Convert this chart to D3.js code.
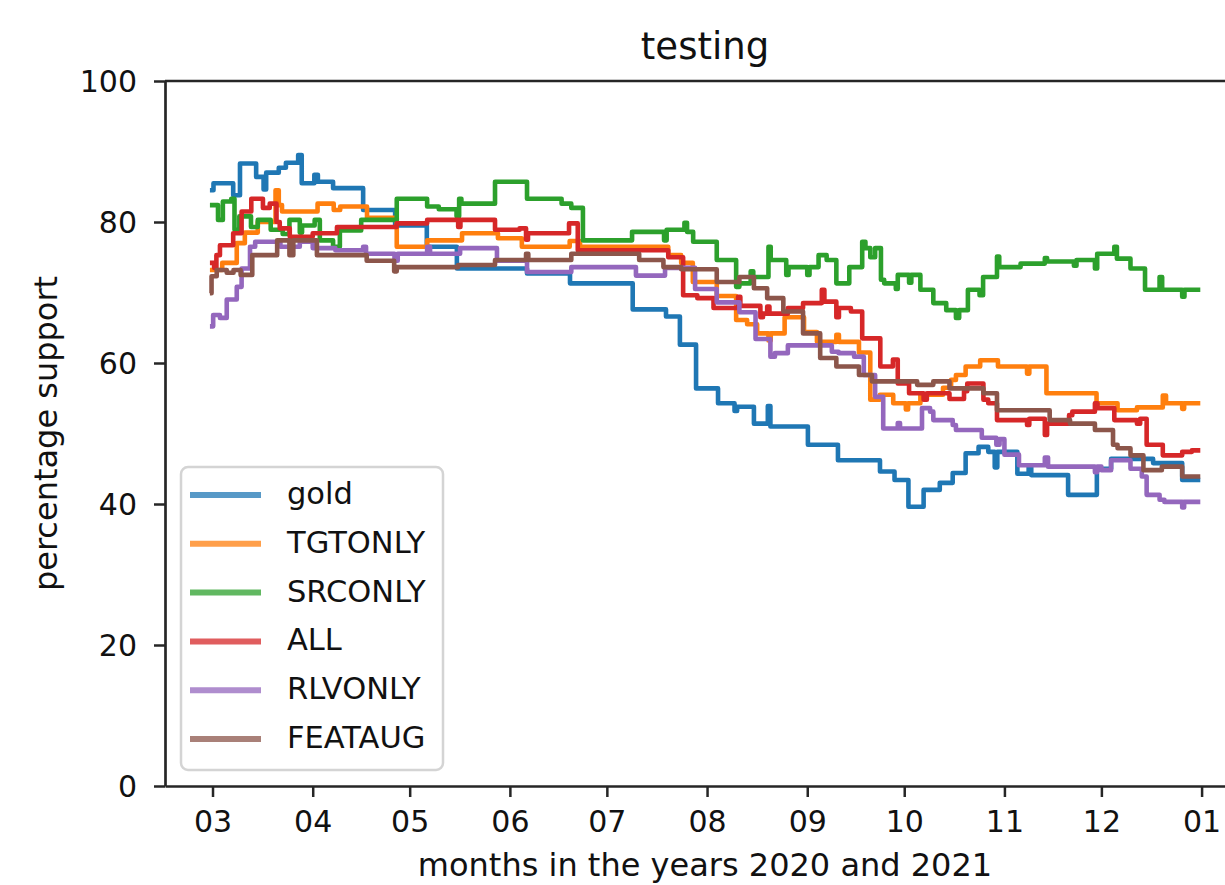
<!DOCTYPE html>
<html>
<head>
<meta charset="utf-8">
<script src="https://cdn.jsdelivr.net/npm/d3@7"></script>
<style>
  html, body { margin: 0; padding: 0; background: #fff; overflow: hidden; }
  svg { display: block; font-family: "DejaVu Sans", sans-serif; }
</style>
</head>
<body>
<div id="chart"></div>
<script>
const names = ["gold", "TGTONLY", "SRCONLY", "ALL", "RLVONLY", "FEATAUG"];
const colors = ["#1f77b4", "#ff7f0e", "#2ca02c", "#d62728", "#9467bd", "#8c564b"];
const yTicks = [0, 20, 40, 60, 80, 100];
const months = ["2020-03-01", "2020-04-01", "2020-05-01", "2020-06-01", "2020-07-01", "2020-08-01",
  "2020-09-01", "2020-10-01", "2020-11-01", "2020-12-01", "2021-01-01"];

// [days since 2020-03-01, percentage support]
const gold = [[-0.8, 84.5], [0.3, 85.5], [6.4, 83.8], [8.5, 88.3], [13.5, 86.4], [15.8, 84.6], [16.6, 87],
  [20.5, 87.7], [22.7, 88.4], [26.5, 89.5], [27.6, 85.5], [31.5, 86.7], [32.6, 85.7], [37.3, 84.8], [46.6, 81.7],
  [56.5, 79.5], [66.3, 76.5], [75.6, 73.4], [97.3, 72.7], [110.6, 71.3], [130, 67.6], [140.3, 66.6], [144.6, 62.6],
  [149.6, 56.4], [156.4, 54.3], [161.5, 53.2], [162.3, 53.8], [167.5, 51.4], [171.8, 53.9], [172.6, 51], [184.2, 48.4],
  [193.5, 46.2], [206.5, 44.6], [211, 43.4], [215.3, 39.6], [220, 42], [225, 43], [229, 44.4], [233, 47.2],
  [237, 48.1], [240, 47.4], [242, 45.2], [242.8, 47.4], [249, 44.3], [252.5, 45.3], [253.3, 44.1], [264.7, 41.3],
  [273.6, 45], [278, 46.4], [291, 45.8], [300, 43.4], [305.6, 43.4]];
const tgtonly = [[-0.8, 73.2], [3, 74.2], [7.5, 77], [10, 78.5], [14, 80], [19.5, 84.5], [20.5, 82.4], [21.5, 81.5],
  [32.5, 82.6], [37.5, 81.7], [39.5, 82.2], [47.8, 80.6], [57, 76.5], [66.4, 77.4], [77.2, 78.4], [88.3, 77.7],
  [95.7, 76.5], [110.5, 77.3], [113.7, 76.5], [141, 75.3], [145, 74.2], [148.6, 71.5], [156, 69.5], [162, 66.1],
  [165.4, 65.5], [168.5, 64.2], [172, 63.2], [172.7, 64.2], [177, 66.5], [183, 64.4], [187, 63], [193, 64],
  [193.8, 63], [200, 61.5], [203.5, 54.8], [206.5, 55.5], [210.6, 54.3], [214.5, 53.4], [215.2, 54.3], [219, 55.5],
  [226, 56.5], [228.5, 57.6], [230, 58.3], [233, 59.5], [237.5, 60.4], [243, 59.5], [252, 58.5], [252.7, 59.5],
  [258, 55.7], [273.5, 54.3], [280, 53.3], [286, 53.7], [294, 55.4], [295, 54.3], [300, 53.5], [300.6, 54.3],
  [305.6, 54.3]];
const srconly = [[-0.8, 82.4], [1.7, 80.3], [3.2, 82.9], [5.8, 83.3], [6.8, 78.9], [8.3, 80.8], [11.9, 79.3],
  [14, 80.3], [18, 78.9], [21.7, 78.3], [23.8, 80.3], [27, 78.5], [27.7, 79.5], [31.6, 80.3], [33.2, 77.4],
  [37.3, 76.5], [39.4, 78.8], [46, 80.3], [57, 83.3], [66.4, 82.2], [70, 81.8], [75.5, 80.8], [76.3, 83.3],
  [77, 82.6], [87.4, 85.7], [97.3, 83.3], [108, 82.6], [111, 82], [114.6, 77.4], [129.8, 78.6], [139.7, 77.4],
  [140.5, 78.9], [146, 79.9], [146.8, 78.6], [148.7, 77.2], [156, 74.6], [162, 70.8], [163, 71.3], [166.5, 73],
  [167.3, 72.2], [172, 76.5], [172.7, 74.6], [177.5, 72.5], [178.2, 73.6], [184, 72.5], [184.7, 73.6], [187.5, 75.3],
  [190, 74.6], [193, 71.3], [197, 73.6], [201, 77.2], [202, 76.3], [203.5, 75], [205, 76.3], [206.8, 71.8],
  [207.8, 71.3], [211.4, 70.5], [212, 72.5], [215.5, 71.4], [216.2, 72.5], [219, 70.4], [223, 68.5], [227, 67.5],
  [230, 66.4], [231, 67.5], [233.7, 70.4], [237.3, 69.6], [238.4, 72.2], [242.7, 75.1], [243.4, 73.6], [250, 74.1],
  [257.5, 74.9], [258.2, 74.4], [266.5, 73.8], [267.3, 74.6], [273, 73.4], [273.7, 75.5], [279, 76.5], [279.8, 74.8],
  [284, 73.4], [288.5, 70.4], [293, 72.2], [293.8, 70.4], [300, 69.4], [300.7, 70.4], [305.6, 70.4]];
const allFeat = [[-0.8, 74.2], [0.5, 73.5], [1.2, 75.3], [2.3, 76.7], [6.4, 78.4], [9, 81.5], [12, 83.3], [15.6, 82],
  [17.7, 82.6], [19.8, 80], [20.8, 79.1], [23.9, 77.9], [31, 78.4], [38.5, 79.3], [57, 79.8], [66.4, 80.3],
  [76, 79.3], [76.7, 80.3], [87.4, 78.9], [95, 79.1], [97, 77.5], [97.6, 78.4], [110.3, 79.8], [113, 76], [141, 75],
  [145.6, 69.6], [150, 69.2], [155, 67.8], [162.6, 69.4], [163.3, 68.1], [169.5, 66.5], [170.3, 67], [171.6, 68],
  [172.3, 67], [178, 67.8], [182.7, 68.5], [188.5, 70.4], [189.3, 68.7], [193, 66.5], [193.8, 67.8], [197.5, 67.3],
  [201, 63.5], [206.6, 59.5], [210.5, 60.5], [212, 57.1], [215.5, 55.7], [220, 54.8], [221, 55.7], [228, 54.9],
  [232.5, 56], [233.5, 57.1], [238.5, 54.8], [240, 54.3], [242.7, 51.9], [252, 51.2], [252.7, 52.1], [257.5, 49.8],
  [258.2, 51.4], [265, 52.6], [266, 53.1], [273, 54.3], [273.8, 53.6], [279, 51.9], [286, 51.4], [287, 52.1],
  [289, 48.4], [294, 46.9], [300, 47.4], [303, 47.6], [305.6, 47.6]];
const rlvonly = [[-0.8, 65.2], [0.2, 66.8], [2.3, 66.4], [4.4, 69], [7.5, 70.8], [9, 73.4], [11.6, 76.5],
  [13.2, 77.2], [21, 76.5], [27, 77.2], [31, 76.3], [38, 76], [46.6, 76.5], [47.5, 75.5], [56.3, 74.5], [57.3, 75.5],
  [66.4, 76.5], [67.3, 75.5], [76.6, 76.3], [88, 74.5], [97.3, 72.9], [111, 73.6], [131, 72.4], [140, 73.5],
  [149.3, 70.5], [156, 68.6], [163, 67.2], [168, 63.4], [172.6, 60.9], [174, 61.4], [178, 62.5], [191.6, 61.6],
  [193.7, 61.4], [198.5, 60.9], [201.5, 58.3], [205, 55.2], [207.5, 50.7], [212, 51.5], [212.7, 50.7], [219.5, 53.6],
  [222, 53.1], [223, 51.9], [229, 51.2], [230, 50.5], [238, 49.4], [242.5, 48.4], [243.5, 49.2], [245, 47],
  [249.5, 45.5], [257.5, 46.6], [258.5, 45.3], [273, 44.5], [273.7, 45.3], [275, 44.8], [278, 46.2], [284, 45],
  [287.5, 43.9], [289, 41.3], [293, 40.6], [294.5, 40.3], [300, 39.5], [300.6, 40.3], [305.6, 40.3]];
const feataug = [[-0.8, 69.9], [-0.3, 72.3], [1.3, 73.2], [4.4, 72.8], [6.5, 73.2], [8.7, 72.5], [12.3, 75.3],
  [20, 77.4], [23.8, 75.3], [25, 77.4], [32.3, 75.3], [47.7, 74.5], [56.2, 73], [57, 73.6], [76, 73.9], [87.4, 74.6],
  [97, 75.5], [97.7, 74.6], [111, 75.5], [132, 74.6], [139.5, 73.6], [145, 73.3], [156, 71.5], [163, 72.2],
  [167.5, 70.6], [171.6, 69.2], [176.6, 67.3], [182.7, 64.2], [188, 60.7], [193, 59.5], [200, 58.3], [204, 57.4],
  [218, 56.9], [223, 57.4], [228, 56.4], [238.5, 55.7], [242.7, 53.3], [259, 51.9], [265.3, 51.4], [273, 50.5],
  [278.6, 48.4], [280, 47.9], [284, 46.9], [288, 44.8], [293.7, 45.3], [300, 43.9], [305.6, 43.9]];

const seriesData = [gold, tgtonly, srconly, allFeat, rlvonly, feataug];

const width = 1225, height = 885;
const plotL = 165, plotR = 1245, plotT = 81, plotB = 786;
const day0 = Date.UTC(2020, 2, 1);
const toDate = d => new Date(day0 + d * 864e5);

const svg = d3.select("#chart").append("svg")
    .attr("width", width)
    .attr("height", height)
    .attr("viewBox", `0 0 ${width} ${height}`);

// 横轴从 2月15日 到 1月14日 (两端留白, 右边框在画面外)
const x = d3.scaleUtc()
    .domain([toDate(-14.7), toDate(319.43)])
    .range([plotL, plotR]);
const y = d3.scaleLinear().domain([0, 100]).range([plotB, plotT]);

const axisColor = "#262626";

// 折线
const line = d3.line()
    .x(d => x(toDate(d[0])))
    .y(d => y(d[1]))
    .curve(d3.curveStepAfter);

svg.append("g").selectAll("path")
    .data(seriesData)
    .join("path")
    .attr("d", line)
    .attr("fill", "none")
    .attr("stroke", (d, i) => colors[i])
    .attr("stroke-width", 4.6)
    .attr("stroke-linejoin", "round");

// 坐标轴
const xAxis = svg.append("g")
    .attr("transform", `translate(0,${plotB})`)
    .call(d3.axisBottom(x)
        .tickValues(months.map(m => new Date(m + "T00:00:00Z")))
        .tickFormat(d3.utcFormat("%m"))
        .tickSize(11)
        .tickSizeOuter(0)
        .tickPadding(14));

const yAxis = svg.append("g")
    .attr("transform", `translate(${plotL},0)`)
    .call(d3.axisLeft(y)
        .tickValues(yTicks)
        .tickSize(11)
        .tickSizeOuter(0)
        .tickPadding(17));

[xAxis, yAxis].forEach(g => {
    g.select(".domain").attr("stroke", axisColor).attr("stroke-width", 2.7);
    g.selectAll(".tick line").attr("stroke", axisColor).attr("stroke-width", 2.5);
    g.selectAll(".tick text")
        .attr("fill", "#111")
        .attr("font-size", 30)
        .attr("font-family", "DejaVu Sans, sans-serif");
});
yAxis.selectAll(".tick text").attr("dy", "0.36em");

// 上边框
svg.append("line")
    .attr("x1", plotL).attr("x2", plotR)
    .attr("y1", plotT).attr("y2", plotT)
    .attr("stroke", axisColor).attr("stroke-width", 2.7);

// 标题与轴标签
svg.append("text").text("testing")
    .attr("x", (plotL + plotR) / 2).attr("y", 59)
    .attr("text-anchor", "middle")
    .attr("font-size", 37)
    .attr("fill", "#111");

svg.append("text").text("months in the years 2020 and 2021")
    .attr("x", (plotL + plotR) / 2).attr("y", 876)
    .attr("text-anchor", "middle")
    .attr("font-size", 32)
    .attr("fill", "#111");

svg.append("text").text("percentage support")
    .attr("transform", `translate(57,${(plotT + plotB) / 2}) rotate(-90)`)
    .attr("text-anchor", "middle")
    .attr("font-size", 32)
    .attr("fill", "#111");

// 图例
const legend = svg.append("g");
legend.append("rect")
    .attr("x", 181).attr("y", 467)
    .attr("width", 262).attr("height", 303)
    .attr("rx", 7)
    .attr("fill", "#fff").attr("fill-opacity", 0.8)
    .attr("stroke", "#d4d4d4").attr("stroke-width", 2.5);

const items = legend.selectAll("g.item")
    .data(names)
    .join("g")
    .attr("class", "item")
    .attr("transform", (d, i) => `translate(0,${495 + i * 48.8})`);

items.append("line")
    .attr("x1", 190).attr("x2", 261)
    .attr("stroke", (d, i) => colors[i])
    .attr("stroke-opacity", 0.75)
    .attr("stroke-width", 6);

items.append("text")
    .text(d => d)
    .attr("x", 287).attr("y", 9)
    .attr("font-size", 30.5)
    .attr("fill", "#111");
</script>
</body>
</html>
